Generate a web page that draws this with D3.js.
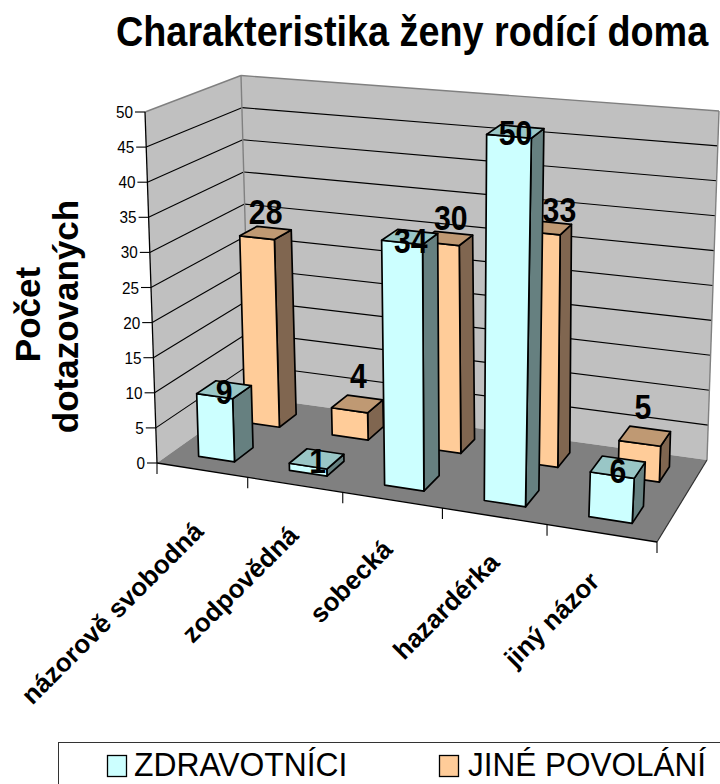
<!DOCTYPE html>
<html>
<head>
<meta charset="utf-8">
<script src="https://cdn.jsdelivr.net/npm/d3@7/dist/d3.min.js"></script>
<style>
html,body{margin:0;padding:0;background:#fff}
svg{display:block}
text{font-family:"Liberation Sans",Arial,sans-serif;fill:#000}
</style>
</head>
<body>
<svg id="chart" width="720" height="784"></svg>
<script>
const categories = ["názorově svobodná", "zodpovědná", "sobecká", "hazardérka", "jiný názor"];
const seriesNames = ["ZDRAVOTNÍCI", "JINÉ POVOLÁNÍ"];
const zdravotnici = [9, 1, 34, 50, 6];
const jinePovolani = [28, 4, 30, 33, 5];
const seriesValues = [zdravotnici, jinePovolani];
const yTicks = d3.range(0, 51, 5);

const svg = d3.select("#chart");

// Projective map of the unit square onto a quad (Heckbert).
function squareToQuad(p00, p10, p11, p01) {
  const dx1 = p10[0] - p11[0], dx2 = p01[0] - p11[0], sx = p00[0] - p10[0] + p11[0] - p01[0];
  const dy1 = p10[1] - p11[1], dy2 = p01[1] - p11[1], sy = p00[1] - p10[1] + p11[1] - p01[1];
  const den = dx1 * dy2 - dx2 * dy1;
  const g = (sx * dy2 - dx2 * sy) / den, h = (dx1 * sy - sx * dy1) / den;
  const a = p10[0] - p00[0] + g * p10[0], b = p01[0] - p00[0] + h * p01[0], c = p00[0];
  const d = p10[1] - p00[1] + g * p10[1], e = p01[1] - p00[1] + h * p01[1], f = p00[1];
  return (u, w) => {
    const q = g * u + h * w + 1;
    return [(a * u + b * w + c) / q, (d * u + e * w + f) / q];
  };
}

// Plot box: floor and ceiling planes in page space.
const floorAt = squareToQuad([157, 463], [657, 542], [707, 460], [250, 397]);
const ceilAt = squareToQuad([145, 112], [679, 160], [719, 111], [241, 75.5]);

const yScale = d3.scaleLinear().domain([0, 50]).range([0, 1]);
const xBand = d3.scaleBand().domain(categories).range([0, 1]).paddingInner(0.6).paddingOuter(0.3);
const zBand = d3.scaleBand().domain(seriesNames).range([0, 1]).paddingInner(0.6).paddingOuter(0.3);

function project(u, w, v) {
  const a = floorAt(u, w), b = ceilAt(u, w), t = yScale(v);
  return [a[0] + (b[0] - a[0]) * t, a[1] + (b[1] - a[1]) * t];
}
const pathOf = pts => "M" + pts.map(p => p[0].toFixed(2) + "," + p[1].toFixed(2)).join("L") + "Z";
function addLine(g, a, b, stroke, width) {
  g.append("line").attr("x1", a[0]).attr("y1", a[1]).attr("x2", b[0]).attr("y2", b[1])
    .attr("stroke", stroke).attr("stroke-width", width);
}

// Walls and floor
const box = svg.append("g");
box.append("path").attr("fill", "#c0c0c0")
  .attr("d", pathOf([project(0,0,0), project(0,1,0), project(0,1,50), project(0,0,50)]));
box.append("path").attr("fill", "#c0c0c0")
  .attr("d", pathOf([project(0,1,0), project(1,1,0), project(1,1,50), project(0,1,50)]));
box.append("path").attr("fill", "#808080")
  .attr("d", pathOf([project(0,0,0), project(1,0,0), project(1,1,0), project(0,1,0)]));

yTicks.slice(1, -1).forEach(v => {
  addLine(box, project(0,0,v), project(0,1,v), "#000", 1.1);
  addLine(box, project(0,1,v), project(1,1,v), "#000", 1.1);
});
addLine(box, project(0,0,50), project(0,1,50), "#808080", 1.4);
addLine(box, project(0,1,50), project(1,1,50), "#808080", 1.4);
addLine(box, project(0,1,0), project(0,1,50), "#808080", 1.4);
addLine(box, project(1,1,0), project(1,1,50), "#808080", 1.4);
addLine(box, project(1,1,0), project(1,0,0), "#303030", 1.2);

// Front axes
addLine(box, project(0,0,0), project(0,0,50), "#000", 1.3);
addLine(box, project(0,0,0), project(1,0,0), "#000", 1.3);
yTicks.forEach(v => {
  const p = project(0,0,v);
  addLine(box, [p[0] - 10, p[1]], p, "#000", 1.1);
  box.append("text").attr("transform", `translate(${p[0] - 12},${p[1] + 6}) scale(0.9,1)`)
    .attr("text-anchor", "end").attr("font-size", 17).text(v);
});
d3.range(0, categories.length + 1).forEach(i => {
  const p = project(i / categories.length, 0, 0);
  addLine(box, p, [p[0], p[1] + 11], "#000", 1.1);
});

// Bars, back row first
const palette = [
  {front: "#ccffff", top: "#99c6c6", side: "#668080"},
  {front: "#ffcc99", top: "#bf9973", side: "#806650"}
];
const bars = svg.append("g").attr("stroke", "#000").attr("stroke-width", 1.7).attr("stroke-linejoin", "round");
const labelSpots = [];
// Hand-placed shifts that keep the value labels clear of the neighbouring bars
const labelShift = [
  [[0, 14], [1, 14], [1, 16], [0, 14], [0, 16]],
  [[0, -9], [1, -16], [4, -8], [14, -6], [-2, -17]]
];
[1, 0].forEach(s => {
  const w0 = zBand(seriesNames[s]), w1 = w0 + zBand.bandwidth();
  categories.forEach((c, i) => {
    const u0 = xBand(c), u1 = u0 + xBand.bandwidth(), v = seriesValues[s][i];
    bars.append("path").attr("fill", palette[s].side)
      .attr("d", pathOf([project(u1,w0,0), project(u1,w1,0), project(u1,w1,v), project(u1,w0,v)]));
    bars.append("path").attr("fill", palette[s].front)
      .attr("d", pathOf([project(u0,w0,0), project(u1,w0,0), project(u1,w0,v), project(u0,w0,v)]));
    bars.append("path").attr("fill", palette[s].top)
      .attr("d", pathOf([project(u0,w0,v), project(u1,w0,v), project(u1,w1,v), project(u0,w1,v)]));
    const p = project((u0 + u1) / 2, (w0 + w1) / 2, v);
    labelSpots.push({x: p[0] + labelShift[s][i][0], y: p[1] + labelShift[s][i][1], v});
  });
});

// Value labels sit above everything else
svg.append("g").selectAll("text").data(labelSpots).join("text")
  .attr("transform", d => `translate(${d.x},${d.y}) scale(0.84,1)`)
  .attr("text-anchor", "middle").attr("font-size", 36).attr("font-weight", "bold")
  .text(d => d.v);

// Category labels
const catEnds = [[205, 533], [300, 537], [394, 551], [501, 564], [601, 583]];
svg.append("g").selectAll("text").data(categories).join("text")
  .attr("transform", (d, i) => `translate(${catEnds[i][0]},${catEnds[i][1]}) rotate(-45)`)
  .attr("text-anchor", "end").attr("font-size", 26).attr("font-weight", "bold")
  .text(d => d);

// Title and value-axis title
svg.append("text").attr("transform", "translate(116,46) scale(0.879,1)")
  .attr("font-size", 43).attr("font-weight", "bold")
  .text("Charakteristika ženy rodící doma");
svg.append("text").attr("transform", "translate(40,314.5) rotate(-90)")
  .attr("text-anchor", "middle").attr("font-size", 35).attr("font-weight", "bold")
  .text("Počet");
svg.append("text").attr("transform", "translate(78,316.5) rotate(-90)")
  .attr("text-anchor", "middle").attr("font-size", 35).attr("font-weight", "bold")
  .text("dotazovaných");

// Legend
const legend = svg.append("g");
legend.append("rect").attr("x", 58.5).attr("y", 742.5).attr("width", 700).attr("height", 80)
  .attr("fill", "#fff").attr("stroke", "#333").attr("stroke-width", 1);
const legendX = [[107.5, 134, 0.965], [439.5, 468, 0.955]];
seriesNames.forEach((name, i) => {
  legend.append("rect").attr("x", legendX[i][0]).attr("y", 755.5).attr("width", 19).attr("height", 21)
    .attr("fill", palette[i].front).attr("stroke", "#000").attr("stroke-width", 1.3);
  legend.append("text").attr("transform", `translate(${legendX[i][1]},776) scale(${legendX[i][2]},1)`)
    .attr("font-size", 33).text(name);
});
</script>
</body>
</html>
